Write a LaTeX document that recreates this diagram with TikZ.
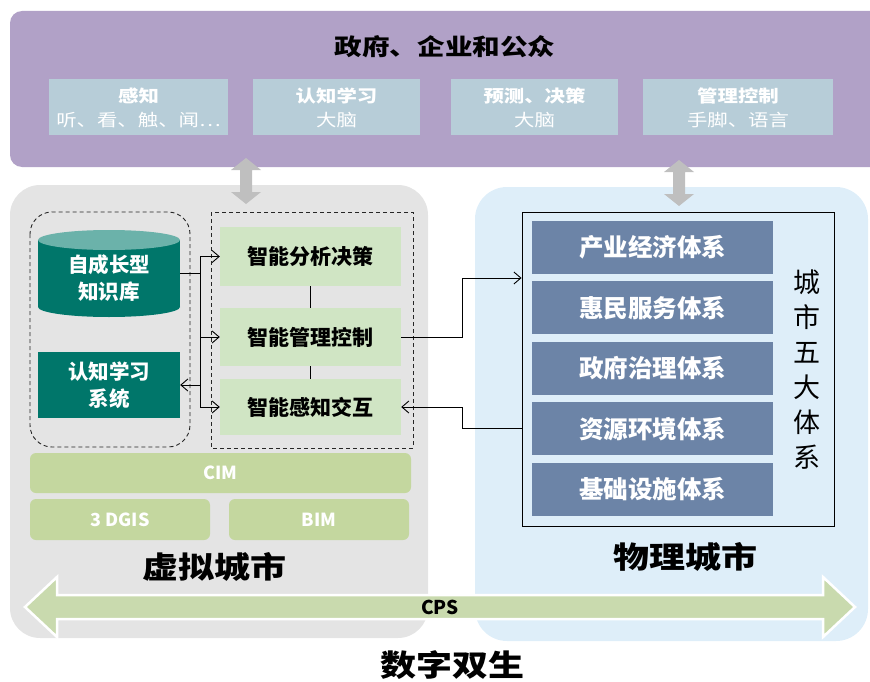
\documentclass[tikz,border=0pt]{standalone}
\usepackage{fontspec}
\setmainfont{Noto Sans CJK SC}
\newfontfamily\widecjk[FakeStretch=1.2]{Noto Sans CJK SC}
\usepackage{xcolor}
\usetikzlibrary{arrows.meta,positioning}
\definecolor{dtPurple}{HTML}{B1A1C7}
\definecolor{dtSlate}{HTML}{B7CDD8}
\definecolor{dtGrey}{HTML}{E4E4E4}
\definecolor{dtSky}{HTML}{DEEEF9}
\definecolor{dtArrow}{HTML}{BFBFBF}
\definecolor{dtTeal1}{HTML}{00766A}
\definecolor{dtTeal2}{HTML}{6BB2AA}
\definecolor{dtGreen1}{HTML}{D0E5C4}
\definecolor{dtGreen2}{HTML}{C4D79F}
\definecolor{dtGreen3}{HTML}{C9DAAE}
\definecolor{dtBlue}{HTML}{6C84A7}

\begin{document}
\begin{tikzpicture}[x=1pt,y=-1pt,>={Straight Barb[length=7pt,width=12pt]}]
    \tikzset{
        topbox/.style={fill=dtSlate,text=white,align=center,minimum height=56pt,inner sep=0pt,font=\widecjk\fontsize{17}{24}\selectfont},
        greenbox/.style={fill=dtGreen1,minimum width=181pt,inner sep=0pt,font=\fontsize{21}{24}\selectfont\bfseries},
        bluebox/.style={fill=dtBlue,text=white,minimum width=241pt,minimum height=53pt,inner sep=0pt,font=\fontsize{24.5}{26}\selectfont\bfseries},
        tealtext/.style={text=white,align=center,minimum width=142pt,inner sep=0pt,font=\fontsize{20.5}{27}\selectfont\bfseries},
        olivebar/.style={fill=dtGreen2,rounded corners=6pt,text=white,minimum height=40pt,inner sep=0pt,font=\fontsize{18}{20}\selectfont\bfseries},
        bigtitle/.style={font=\widecjk\fontsize{30}{32}\selectfont\bfseries},
        dashbox/.style={draw=black!85,line width=0.9pt,dash pattern=on 4pt off 3pt},
        link/.style={line width=0.9pt},
        updown/.pic={
            \fill[dtArrow] (0,-23) -- (15,-11) -- (6,-11) -- (6,11) -- (15,11) -- (0,23) -- (-15,11) -- (-6,11) -- (-6,-11) -- (-15,-11) -- cycle;
        }
    }
    \useasboundingbox (0,0) rectangle (870,682);
    \clip (0,0) rectangle (870,682);

    % panels
    \fill[dtPurple,rounded corners=12pt] (10,11) rectangle (890,167);
    \fill[dtGrey,rounded corners=30pt] (10,185) rectangle (428,638);
    \fill[dtSky,rounded corners=32pt] (475,187) rectangle (868,641);
    \pic at (246,181) {updown};
    \pic at (679,183) {updown};

    % users
    \node[font=\widecjk\fontsize{23}{26}\selectfont\bfseries] (users) at (445,47) {政府、企业和公众};
    \node[topbox,minimum width=179pt] (sense) at (138.5,107.5) {{\bfseries 感知}\\听、看、触、闻…};
    \node[topbox,minimum width=167pt] (cognize) at (336.5,107.5) {{\bfseries 认知学习}\\大脑};
    \node[topbox,minimum width=167pt] (predict) at (534.5,107.5) {{\bfseries 预测、决策}\\大脑};
    \node[topbox,minimum width=190pt] (control) at (738,107.5) {{\bfseries 管理控制}\\手脚、语言};

    % virtual city
    \draw[dashbox,rounded corners=22pt] (30,212) rectangle (190,447);
    \draw[dashbox] (211,212) rectangle (413,448);
    \fill[dtTeal1] (38,240) rectangle (180,307);
    \fill[dtTeal1] (109,307) ellipse[x radius=71pt,y radius=10pt];
    \fill[dtTeal2] (109,240) ellipse[x radius=71pt,y radius=10pt];
    \node[tealtext] (kb) at (109,278) {自成长型\\知识库};
    \node[tealtext,fill=dtTeal1,minimum height=66pt] (learn) at (109,385) {认知学习\\系统};
    \node[greenbox,minimum height=59pt] (decide) at (310.5,256.5) {智能分析决策};
    \node[greenbox,minimum height=58pt] (manage) at (310.5,337) {智能管理控制};
    \node[greenbox,minimum height=56pt] (interact) at (310.5,407) {智能感知交互};
    \draw[link] (decide) -- (manage);
    \draw[link] (manage) -- (interact);

    \coordinate (bus) at (200,273);
    \draw[link] (kb.east |- bus) -- (bus);
    \draw[link] (bus |- decide) -- (bus |- interact);
    \draw[link,->] (bus |- decide) -- (decide.west);
    \draw[link,->] (bus |- manage) -- (manage.west);
    \draw[link,->] (bus |- interact) -- (interact.west);
    \draw[link,->] (bus |- learn) -- (learn.east);

    \node[olivebar,minimum width=381pt] (cim) at (220.5,473) {CIM};
    \node[olivebar,minimum width=180pt,minimum height=41pt] (gis) at (120,519.5) {3 DGIS};
    \node[olivebar,minimum width=180pt,minimum height=41pt] (bim) at (319,519.5) {BIM};
    \node[bigtitle] (virtual) at (214,567) {虚拟城市};

    % physical city
    \node[draw,line width=0.9pt,minimum width=312pt,minimum height=314pt,inner sep=0pt] (cities) at (678,369) {};
    \node[bluebox] (economy) at (652.5,247.5) {产业经济体系};
    \node[bluebox,below=7pt of economy] (service) {惠民服务体系};
    \node[bluebox,below=7pt of service] (govern) {政府治理体系};
    \node[bluebox,below=7pt of govern] (resource) {资源环境体系};
    \node[bluebox,below=7pt of resource] (infra) {基础设施体系};
    \node[align=center,font=\fontsize{27}{35}\selectfont] (five) at (807,370) {城\\市\\五\\大\\体\\系};
    \node[bigtitle] (physical) at (685,557) {物理城市};

    \coordinate (jog) at (462,0);
    \draw[link,->] (manage.east) -- (manage.east -| jog) |- ([yshift=91pt]cities.west);
    \draw[link,->] (cities.west |- resource) -| (jog |- interact) -- (interact.east);

    % twin
    \filldraw[fill=dtGreen3,draw=white,line width=2.5pt] (25,607) -- (57,577) -- (57,595) -- (823,595) -- (823,577) -- (855,607) -- (823,637) -- (823,619) -- (57,619) -- (57,637) -- cycle;
    \node[font=\fontsize{19}{22}\selectfont\bfseries] (cps) at (440,607) {CPS};
    \node[bigtitle] (twin) at (452,665) {数字双生};
\end{tikzpicture}
\end{document}
